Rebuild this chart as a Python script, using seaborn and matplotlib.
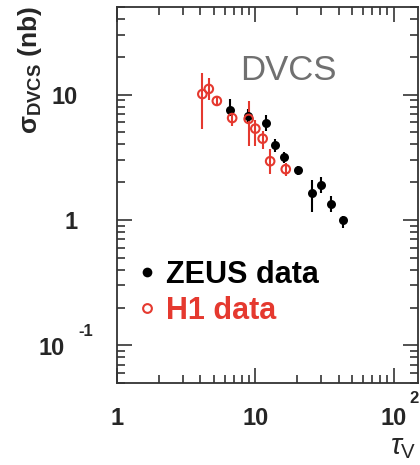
import numpy as np
import pandas as pd
import matplotlib
matplotlib.use("Agg")
import matplotlib.pyplot as plt
from matplotlib.ticker import LogLocator, FixedLocator, FixedFormatter, NullFormatter
from matplotlib.transforms import blended_transform_factory
from matplotlib.lines import Line2D
import seaborn as sns

# ZEUS measurements: tau_V, cross section and error bar ends (nb)
zeus_tau = [6.58, 8.8, 12.0, 13.9, 16.2, 20.3, 25.8, 29.7, 35.1, 43.2]
zeus_sigma = [7.6, 6.73, 5.89, 3.94, 3.16, 2.5, 1.63, 1.91, 1.34, 0.99]
zeus_hi = [9.2, 7.7, 6.9, 4.4, 3.5, 2.7, 2.09, 2.2, 1.55, 1.08]
zeus_lo = [6.7, 5.9, 5.1, 3.5, 2.85, 2.3, 1.16, 1.63, 1.16, 0.86]

# H1 measurements
h1_tau = [4.14, 4.61, 5.27, 6.8, 8.95, 10.0, 11.3, 12.8, 16.6]
h1_sigma = [10.1, 11.1, 8.9, 6.5, 6.4, 5.35, 4.45, 2.94, 2.54]
h1_hi = [14.9, 13.6, 9.8, 7.15, 8.9, 6.3, 5.1, 3.66, 2.85]
h1_lo = [5.3, 9.1, 8.1, 5.63, 3.9, 3.9, 3.66, 2.32, 2.26]

# decade ticks; the exponent of the outer decades is drawn separately
x_ticks = [1, 10, 100]
x_ticklabels = ["1", "10", "10"]
y_ticks = [0.1, 1, 10]
y_ticklabels = ["", "1", "10"]

RED = "#e5392f"
AXC = "#333333"

sns.set_style("ticks")
plt.rcParams["font.family"] = ["Liberation Sans", "DejaVu Sans"]
plt.rcParams["mathtext.fontset"] = "custom"
plt.rcParams["mathtext.rm"] = "Liberation Sans"
plt.rcParams["mathtext.bf"] = "Liberation Sans:bold"
plt.rcParams["mathtext.it"] = "Liberation Sans:italic"

zeus = pd.DataFrame({"tau": zeus_tau, "sigma": zeus_sigma,
                     "hi": zeus_hi, "lo": zeus_lo})
h1 = pd.DataFrame({"tau": h1_tau, "sigma": h1_sigma,
                   "hi": h1_hi, "lo": h1_lo})

fig = plt.figure(figsize=(4.2, 4.65), dpi=100)
ax = fig.add_axes([117 / 420, 1 - 383 / 465, (418 - 117) / 420, (383 - 7) / 465])

# error bars
ax.errorbar(zeus["tau"], zeus["sigma"],
            yerr=[zeus["sigma"] - zeus["lo"], zeus["hi"] - zeus["sigma"]],
            fmt="none", ecolor="black", elinewidth=1.5, capsize=0, zorder=2)
ax.errorbar(h1["tau"], h1["sigma"],
            yerr=[h1["sigma"] - h1["lo"], h1["hi"] - h1["sigma"]],
            fmt="none", ecolor=RED, elinewidth=1.5, capsize=0, zorder=3)

sns.scatterplot(data=zeus, x="tau", y="sigma", ax=ax, color="black",
                s=42, linewidth=0, zorder=4, legend=False)
sns.scatterplot(data=h1, x="tau", y="sigma", ax=ax, facecolor="none",
                edgecolor=RED, s=38, linewidth=1.5, zorder=5, legend=False)

ax.set_xscale("log")
ax.set_yscale("log")
ax.set_xlim(1, 150)
ax.set_ylim(0.05, 50)
ax.set_xlabel("")
ax.set_ylabel("")

ax.xaxis.set_major_locator(FixedLocator(x_ticks))
ax.xaxis.set_major_formatter(FixedFormatter(x_ticklabels))
ax.yaxis.set_major_locator(FixedLocator(y_ticks))
ax.yaxis.set_major_formatter(FixedFormatter(y_ticklabels))
ax.xaxis.set_minor_locator(LogLocator(base=10, subs=np.arange(2, 10)))
ax.yaxis.set_minor_locator(LogLocator(base=10, subs=np.arange(2, 10)))
ax.xaxis.set_minor_formatter(NullFormatter())
ax.yaxis.set_minor_formatter(NullFormatter())

ax.tick_params(which="both", direction="in", top=True, right=True,
               color=AXC, width=1.2)
ax.tick_params(which="major", length=11)
ax.tick_params(which="minor", length=6)
ax.tick_params(axis="y", which="major", pad=28, labelsize=17)
ax.tick_params(axis="x", which="major", pad=17, labelsize=17)
for lab in ax.get_xticklabels() + ax.get_yticklabels():
    lab.set_fontweight("bold")
for sp in ax.spines.values():
    sp.set_color(AXC)
    sp.set_linewidth(1.3)

# 10^-1 on the y axis and the exponent of 10^2 on the x axis
ytr = blended_transform_factory(ax.transAxes, ax.transData)
ax.text(-52 / 301, 0.095, "10", transform=ytr, ha="right", va="center",
        fontsize=17, fontweight="bold", clip_on=False)
ax.text(-24 / 301, 0.113, "-1", transform=ytr, ha="right", va="bottom",
        fontsize=12, fontweight="bold", clip_on=False)
fig.text(409 / 420, 1 - 406 / 465, "2", ha="left", va="bottom",
         fontsize=12, fontweight="bold")

ax.text(0.41, 0.832, "DVCS", transform=ax.transAxes, fontsize=25,
        color="#707070", ha="left", va="center")

handles = [
    Line2D([], [], marker="o", linestyle="none", color="black",
           markersize=7, markeredgewidth=0),
    Line2D([], [], marker="o", linestyle="none", markerfacecolor="none",
           markeredgecolor=RED, markersize=6.3, markeredgewidth=1.5),
]
leg = ax.legend(handles, ["ZEUS data", "H1 data"], loc="upper left",
                bbox_to_anchor=(0.03, 0.36), frameon=False,
                prop={"weight": "bold", "size": 22}, handlelength=0.6,
                handletextpad=0.3, labelspacing=0.2, borderaxespad=0)
leg.get_texts()[0].set_color("black")
leg.get_texts()[1].set_color(RED)

fig.text(30 / 420, 1 - 6 / 465, r"$\mathbf{\sigma_{DVCS}}$ (nb)",
         rotation=90, ha="center", va="top", fontsize=19, fontweight="bold")
fig.text(390 / 420, 1 - 447 / 465, r"$\tau_{\mathrm{V}}$", ha="left",
         va="center", fontsize=21)

fig.savefig("out.png", dpi=100)
